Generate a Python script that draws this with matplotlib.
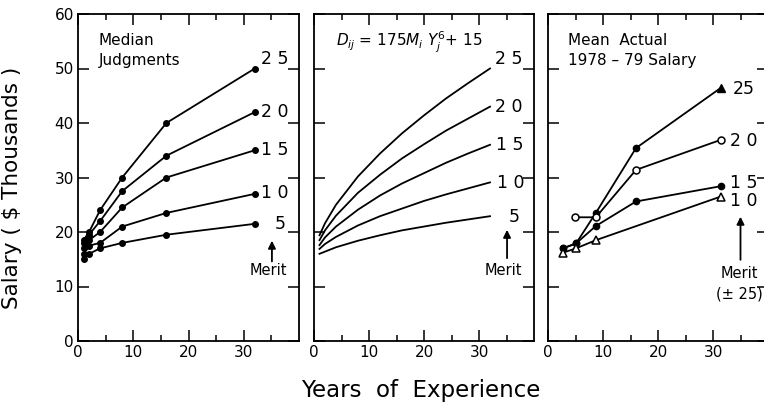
import matplotlib
matplotlib.use("Agg")
import matplotlib.pyplot as plt

plt.rcParams['font.family'] = ['DejaVu Sans']

# ---------------- data ----------------
merit_levels = [25, 20, 15, 10, 5]
merit_text = ["2 5", "2 0", "1 5", "1 0", "5"]

# Panel 1: median judgments
years_judg = [1, 2, 4, 8, 16, 32]
judg_25 = [18.5, 20.0, 24.0, 30.0, 40.0, 50.0]
judg_20 = [18.0, 19.5, 22.0, 27.5, 34.0, 42.0]
judg_15 = [17.0, 18.5, 20.0, 24.5, 30.0, 35.0]
judg_10 = [16.0, 17.5, 18.0, 21.0, 23.5, 27.0]
judg_5 = [15.0, 16.0, 17.0, 18.0, 19.5, 21.5]

# Panel 2: model curves
years_model = [1, 2, 4, 8, 12, 16, 20, 24, 28, 32]
model_25 = [19.4, 21.6, 25.0, 30.2, 34.4, 38.1, 41.4, 44.5, 47.3, 50.0]
model_20 = [18.5, 20.3, 23.0, 27.2, 30.5, 33.5, 36.1, 38.6, 40.8, 43.0]
model_15 = [17.6, 19.0, 21.0, 24.1, 26.7, 28.9, 30.8, 32.7, 34.4, 36.0]
model_10 = [16.9, 17.8, 19.1, 21.2, 22.9, 24.3, 25.7, 26.9, 28.0, 29.1]
model_5 = [16.0, 16.4, 17.2, 18.4, 19.4, 20.3, 21.0, 21.7, 22.3, 22.9]

# Panel 3: mean actual 1978-79 salary
act_years_25 = [2.7, 5.1, 8.7, 16.0, 31.5]
act_25 = [17.0, 17.9, 23.5, 35.4, 46.5]
act_years_20 = [4.9, 8.7, 16.0, 31.4]
act_20 = [22.7, 22.7, 31.4, 36.9]
act_years_15 = [2.7, 5.1, 8.7, 16.0, 31.4]
act_15 = [17.0, 17.9, 21.1, 25.6, 28.4]
act_years_10 = [2.7, 5.1, 8.7, 31.4]
act_10 = [16.2, 17.0, 18.5, 26.5]

x_ticks = [0, 10, 20, 30]
y_ticks = [0, 10, 20, 30, 40, 50, 60]

# ---------------- figure ----------------
W, H = 764, 412
fig = plt.figure(figsize=(W / 100, H / 100), dpi=100)

def px_axes(x0, x1, y0, y1):
    return fig.add_axes([x0 / W, 1 - y1 / H, (x1 - x0) / W, (y1 - y0) / H])

ax1 = px_axes(78, 299, 14, 341)
ax2 = px_axes(314, 534, 14, 341)
ax3 = px_axes(548, 768, 14, 341)

lw = 1.3
for i, ax in enumerate((ax1, ax2, ax3)):
    ax.set_xlim(0, 40)
    ax.set_ylim(0, 60)
    ax.set_xticks(x_ticks)
    ax.set_xticks([5, 15, 25, 35], minor=True)
    ax.set_yticks(y_ticks)
    ax.tick_params(which='both', direction='in', top=True, right=True,
                   width=1.1, labelsize=11, pad=3)
    ax.tick_params(which='major', length=8)
    ax.tick_params(which='minor', length=4)
    for s in ax.spines.values():
        s.set_linewidth(1.3)
    if i > 0:
        ax.tick_params(axis='y', labelleft=False)

arrow_kw = dict(arrowstyle='-|>', color='black', lw=1.3,
                mutation_scale=11, shrinkA=0, shrinkB=0)

# Panel 1
for vals in (judg_25, judg_20, judg_15, judg_10, judg_5):
    ax1.plot(years_judg, vals, color='black', lw=lw, marker='o', ms=4)
ax1.text(3.8, 56.5, "Median\nJudgments", fontsize=11, va='top', ha='left',
         linespacing=1.4)
lab_y1 = [51.8, 42.0, 35.0, 27.2, 21.4]
lab_x1 = [35.6, 35.6, 35.6, 35.6, 36.6]
for t, x, y in zip(merit_text, lab_x1, lab_y1):
    ax1.text(x, y, t, fontsize=12.5, ha='center', va='center')
ax1.annotate("", xy=(35.1, 18.4), xytext=(35.1, 14.6), arrowprops=arrow_kw)
ax1.text(34.4, 12.9, "Merit", fontsize=10.5, ha='center', va='center')

# Panel 2
for vals in (model_25, model_20, model_15, model_10, model_5):
    ax2.plot(years_model, vals, color='black', lw=lw)
ax2.text(4.0, 54.8, r"$D_{ij}$ = 175$M_i$ $Y_j^{6}$+ 15", fontsize=11,
         va='center', ha='left')
lab_y2 = [51.8, 42.9, 36.0, 29.0, 22.8]
lab_x2 = [35.4, 35.4, 35.6, 35.8, 36.4]
for t, x, y in zip(merit_text, lab_x2, lab_y2):
    ax2.text(x, y, t, fontsize=12.5, ha='center', va='center')
ax2.annotate("", xy=(35.1, 20.4), xytext=(35.1, 15.2), arrowprops=arrow_kw)
ax2.text(34.5, 13.0, "Merit", fontsize=10.5, ha='center', va='center')

# Panel 3
ax3.plot(act_years_25, act_25, color='black', lw=lw, marker='o', ms=4.5,
         markevery=[0, 1, 2, 3])
ax3.plot(act_years_25[-1:], act_25[-1:], color='black', ls='none',
         marker='^', ms=6)
ax3.plot(act_years_20, act_20, color='black', lw=lw, marker='o', ms=5,
         mfc='white', mew=1.1)
ax3.plot(act_years_15, act_15, color='black', lw=lw, marker='o', ms=4.5)
ax3.plot(act_years_10, act_10, color='black', lw=lw, marker='^', ms=5.5,
         mfc='white', mew=1.1)
ax3.text(3.6, 56.5, "Mean  Actual\n1978 \u2013 79 Salary", fontsize=11,
         va='top', ha='left', linespacing=1.4)
lab3 = ["25", "2 0", "1 5", "1 0"]
lab_y3 = [46.2, 36.7, 29.0, 25.6]
for t, y in zip(lab3, lab_y3):
    ax3.text(35.6, y, t, fontsize=12.5, ha='center', va='center')
ax3.annotate("", xy=(35.0, 22.8), xytext=(35.0, 14.9), arrowprops=arrow_kw)
ax3.text(34.8, 12.4, "Merit", fontsize=10.5, ha='center', va='center')
ax3.text(34.8, 8.6, "(\u00b1 25)", fontsize=10.5, ha='center', va='center')

# axis labels
fig.text(12 / W, 1 - 188 / H, "Salary ( $ Thousands )", rotation=90,
         fontsize=15.5, ha='center', va='center')
fig.text(421 / W, 1 - 390 / H, "Years  of  Experience", fontsize=16.5,
         ha='center', va='center')

fig.savefig("out.png", dpi=100)
